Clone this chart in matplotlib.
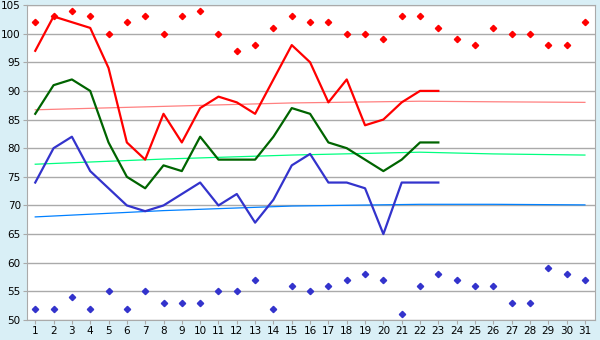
import matplotlib
matplotlib.use("Agg")
import matplotlib.pyplot as plt

days = list(range(1, 32))
line_days = list(range(1, 24))

# daily lines (days 1-23)
red_line = [97, 103, 102, 101, 94, 81, 78, 86, 81, 87, 89, 88, 86, 92, 98, 95, 88, 92, 84, 85, 88, 90, 90]
green_line = [86, 91, 92, 90, 81, 75, 73, 77, 76, 82, 78, 78, 78, 82, 87, 86, 81, 80, 78, 76, 78, 81, 81]
blue_line = [74, 80, 82, 76, 73, 70, 69, 70, 72, 74, 70, 72, 67, 71, 77, 79, 74, 74, 73, 65, 74, 74, 74]

# point markers (days 1-31)
red_pts = [102, 103, 104, 103, 100, 102, 103, 100, 103, 104, 100, 97, 98, 101, 103, 102,
           102, 100, 100, 99, 103, 103, 101, 99, 98, 101, 100, 100, 98, 98, 102]
blue_pts = [52, 52, 54, 52, 55, 52, 55, 53, 53, 53, 55, 55, 57, 52, 56, 55,
            56, 57, 58, 57, 51, 56, 58, 57, 56, 56, 53, 53, 59, 58, 57]

# trend lines, read at a few days
trend_days = [1, 8, 15, 22, 26, 31]
red_trend = [86.7, 87.3, 87.9, 88.2, 88.1, 88.0]
green_trend = [77.2, 78.1, 78.8, 79.3, 79.0, 78.8]
blue_trend = [68.0, 69.1, 69.9, 70.2, 70.2, 70.1]

bg = "#d9eff6"
fig = plt.figure(figsize=(6, 3.4), dpi=100, facecolor=bg)
ax = fig.add_axes([27 / 600, 1 - 320 / 340, 568 / 600, 315 / 340])
ax.set_facecolor("white")

ax.plot(trend_days, red_trend, color="#ff8080", lw=0.9, zorder=2)
ax.plot(trend_days, green_trend, color="#00ff80", lw=0.9, zorder=2)
ax.plot(trend_days, blue_trend, color="#0080ff", lw=0.9, zorder=2)

ax.plot(line_days, red_line, color="#ff0000", lw=1.6, zorder=3)
ax.plot(line_days, green_line, color="#006400", lw=1.6, zorder=3)
ax.plot(line_days, blue_line, color="#3333cc", lw=1.6, zorder=3)

ax.plot(days, red_pts, ls="none", marker="D", ms=3.2, color="#ff0000", zorder=4)
ax.plot(days, blue_pts, ls="none", marker="D", ms=3.2, color="#3333cc", zorder=4)

ax.set_xlim(0.55, 31.55)
ax.set_ylim(50, 105)
ax.set_xticks(days)
ax.set_yticks(range(50, 106, 5))
ax.yaxis.grid(True, color="#aaaaaa", lw=1)
ax.set_axisbelow(True)
for s in ax.spines.values():
    s.set_color("#aaaaaa")
ax.tick_params(axis="both", colors="#aaaaaa", labelcolor="black", labelsize=7.5,
               length=3, pad=1.5, direction="out")

fig.savefig("out.png", dpi=100, facecolor=bg)
